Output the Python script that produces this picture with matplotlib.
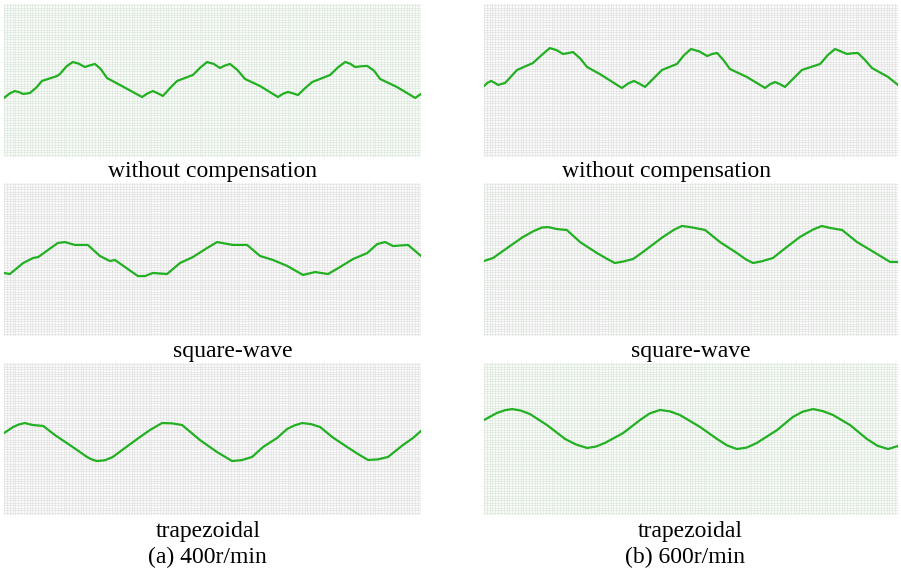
import numpy as np
import matplotlib.pyplot as plt

# waveforms: x = % of record window, y = % of screen height
t_a1 = [0, 1.4, 2.6, 3.6, 4.6, 6.2, 7.8, 9.1, 12.7, 13.4, 15.0, 16.5, 17.9, 19.4, 20.6,
        21.8, 23.2, 24.7, 27.8, 33.1, 34.4, 35.7, 36.9, 38.1, 39.8, 41.5, 45.3, 47.1, 48.7, 50.3,
        51.8, 53.0, 54.2, 56.0, 57.8, 61.4, 65.7, 66.9, 68.1, 69.3, 70.5, 72.2, 73.9, 78.2, 80.1,
        81.8, 83.0, 84.2, 85.7, 87.1, 88.7, 90.2, 94.2, 98.6, 100]
v_a1 = [38.6, 41.6, 43.1, 42.4, 41.2, 41.8, 45.5, 49.7, 52.9, 54.2, 59.3, 62.1, 61.0, 58.8, 59.9,
        60.8, 57.5, 51.6, 47.1, 39.2, 41.5, 43.1, 41.6, 39.9, 45.0, 49.7, 53.6, 58.5, 62.1, 60.8,
        58.2, 59.8, 60.8, 56.8, 51.0, 46.4, 39.2, 41.3, 42.5, 41.6, 40.5, 45.0, 49.0, 53.6, 58.6,
        62.1, 61.0, 58.8, 59.3, 59.5, 56.5, 51.0, 45.8, 38.6, 41.2]

t_b1 = [0, 0.9, 1.7, 2.5, 3.4, 5.1, 6.5, 8.0, 11.8, 14.0, 15.9, 17.5, 19.1, 20.3, 21.5,
        23.2, 24.9, 28.0, 33.3, 34.8, 36.2, 37.5, 38.9, 41.0, 43.0, 46.6, 48.3, 50.0, 52.0, 53.9,
        55.1, 56.3, 57.8, 59.4, 63.5, 67.9, 69.1, 70.3, 71.5, 72.7, 74.8, 76.8, 81.2, 83.0, 84.8,
        86.2, 87.7, 89.0, 90.3, 92.0, 93.7, 97.6, 100]
v_b1 = [46.4, 48.6, 49.7, 48.6, 47.1, 48.4, 52.5, 56.9, 61.4, 66.8, 71.2, 69.9, 67.3, 67.9, 68.6,
        64.5, 58.8, 54.2, 45.1, 48.0, 49.7, 48.0, 45.8, 51.5, 56.9, 60.8, 66.5, 70.6, 69.0, 66.0,
        67.3, 68.0, 63.5, 57.5, 52.3, 45.1, 47.6, 49.0, 47.6, 45.8, 51.5, 56.9, 60.8, 66.5, 70.6,
        69.0, 67.3, 67.8, 68.0, 63.5, 58.2, 52.3, 47.1]

t_a2 = [0, 1.4, 4.6, 7.0, 8.2, 12.9, 14.6, 17.0, 20.1, 23.0, 25.4, 26.6, 29.0, 32.1, 33.8,
        35.7, 39.1, 42.2, 45.3, 48.7, 51.1, 54.9, 58.3, 61.4, 64.5, 67.9, 71.7, 74.6, 77.7,
        80.6, 83.7, 87.1, 89.5, 91.4, 93.3, 96.9, 100]
v_a2 = [41.2, 40.5, 47.7, 51.0, 51.6, 60.8, 61.4, 59.5, 59.5, 52.3, 49.0, 49.7, 45.1, 39.2, 39.2,
        41.2, 40.5, 47.7, 51.6, 57.5, 61.4, 59.5, 59.5, 52.3, 49.7, 45.8, 39.9, 41.8, 40.5,
        45.1, 50.3, 54.2, 60.1, 61.4, 58.8, 59.5, 52.3]

t_b2 = [0, 2.2, 5.6, 9.4, 12.0, 14.0, 15.5, 17.6, 20.0, 23.2, 27.3, 29.8, 31.6, 33.5, 36.0, 38.4,
        43.2, 46.0, 47.8, 49.8, 53.4, 57.0, 61.1, 63.3, 65.0, 67.2, 69.8, 72.2, 76.3, 79.5,
        81.6, 83.6, 86.5, 90.1, 93.7, 98.1, 100]
v_b2 = [49.0, 51.0, 57.5, 64.7, 68.6, 70.9, 71.2, 69.9, 69.3, 61.4, 54.2, 50.3, 47.7, 48.6, 50.3,
        54.9, 64.7, 69.6, 71.9, 71.2, 69.3, 61.4, 54.2, 50.0, 47.7, 48.9, 51.0, 56.2, 64.7, 69.6,
        71.9, 70.6, 69.3, 61.4, 55.6, 48.4, 48.4]

t_a3 = [0, 2.2, 3.6, 5.0, 6.9, 9.4, 12.2, 16.5, 19.9, 21.1, 22.3, 24.2, 26.1, 29.0, 32.6, 35.0,
        37.9, 40.3, 42.7, 47.0, 51.1, 54.7, 57.0, 59.5, 62.1, 65.5, 67.9, 69.7, 71.5, 73.6, 75.8,
        78.7, 82.3, 84.9, 87.3, 89.7, 92.1, 95.7, 98.1, 100]
v_a3 = [53.9, 57.9, 59.6, 60.5, 59.2, 58.6, 52.6, 44.7, 38.2, 36.5, 35.5, 36.0, 38.2, 44.1, 51.3,
        55.9, 60.5, 60.3, 59.2, 49.3, 41.4, 35.5, 36.1, 38.2, 44.7, 50.7, 56.6, 59.0, 60.5, 59.8,
        57.9, 51.3, 44.7, 40.1, 36.2, 36.6, 38.2, 46.1, 50.7, 55.3]

t_b3 = [0, 3.1, 5.0, 6.8, 8.9, 11.1, 15.2, 19.6, 22.2, 24.9, 27.0, 29.2, 33.6, 37.7, 40.0,
        42.5, 44.9, 47.3, 52.2, 56.3, 58.7, 61.1, 63.5, 65.9, 70.8, 74.6, 77.0, 79.5, 81.9,
        84.3, 88.4, 92.5, 95.0, 97.6, 100]
v_b3 = [62.5, 67.1, 68.9, 69.7, 68.7, 66.4, 59.2, 50.0, 46.4, 44.1, 45.0, 47.4, 53.9, 62.5, 66.8,
        69.1, 68.2, 65.8, 57.9, 50.0, 45.8, 43.4, 44.4, 47.4, 55.9, 64.5, 68.0, 69.7, 68.3,
        65.8, 59.2, 50.0, 45.6, 43.4, 45.4]

captions = ["without compensation", "square-wave", "trapezoidal"]
speeds = ["(a) 400r/min", "(b) 600r/min"]

W, H = 901, 571
fig = plt.figure(figsize=(W / 100, H / 100), dpi=100)
fig.patch.set_facecolor('white')

# panel boxes in pixels: (left, right) / (top, bottom)
cols = [(4, 421), (484, 898)]
rows = [(4, 157), (183, 336), (363, 515)]
traces = [[(t_a1, v_a1), (t_b1, v_b1)],
          [(t_a2, v_a2), (t_b2, v_b2)],
          [(t_a3, v_a3), (t_b3, v_b3)]]
gridcol = [['#dde9dd', '#e2e2e2'], ['#e2e2e2', '#e0e4e0'], ['#e2e2e2', '#dde9dd']]

for r, (top, bot) in enumerate(rows):
    for c, (left, right) in enumerate(cols):
        ax = fig.add_axes([left / W, 1 - bot / H, (right - left) / W, (bot - top) / H])
        ax.set_facecolor('#fafafa')
        ax.set_xlim(0, 100)
        ax.set_ylim(0, 100)
        # dense scope-style grid
        ax.set_xticks(np.arange(0, 100, 0.68), minor=True)
        ax.set_yticks(np.arange(0, 100, 1.6), minor=True)
        ax.grid(which='minor', color=gridcol[r][c], linewidth=0.5)
        ax.set_xticks([])
        ax.set_yticks([])
        ax.tick_params(which='both', length=0)
        for s in ax.spines.values():
            s.set_visible(False)
        t, v = traces[r][c]
        ax.plot(t, v, color='#22b022', linewidth=1.6, solid_joinstyle='round')

cap_y = [172, 351, 532]
cap_x = [[213, 667], [233, 691], [208, 690]]
for r in range(3):
    for c in range(2):
        fig.text(cap_x[r][c] / W, 1 - cap_y[r] / H, captions[r], ha='center', va='center',
                 family='Liberation Serif', fontsize=17)
for c, x in enumerate([207, 685]):
    fig.text(x / W, 1 - 557 / H, speeds[c], ha='center', va='center',
             family='Liberation Serif', fontsize=17)

fig.savefig('out.png', dpi=100)
